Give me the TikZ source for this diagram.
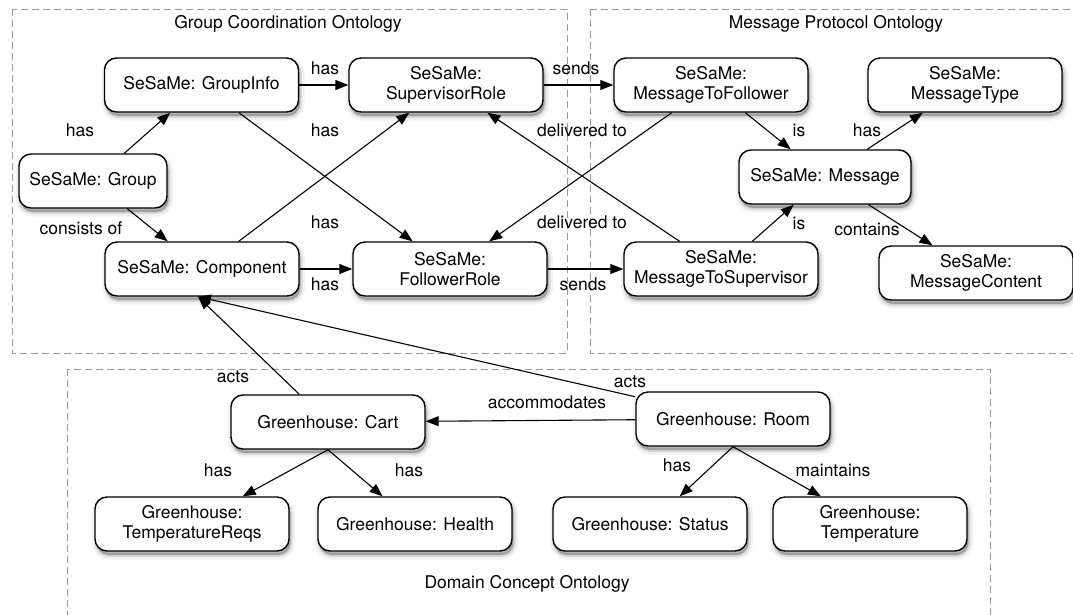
\documentclass[tikz,border=0pt]{standalone}
\usepackage{fontspec}
\setmainfont{TeX Gyre Heros}
\usetikzlibrary{arrows.meta,shadows}

\begin{document}
\begin{tikzpicture}[x=1pt,y=-1pt,
  every node/.style={font=\fontsize{17.5}{20.5}\selectfont},
  softshadow/.style={
    general shadow={shadow xshift=1.5pt, shadow yshift=-4pt, fill=black,
      fill opacity=0.10, draw=black, draw opacity=0.05, line width=9pt},
    general shadow={shadow xshift=1.5pt, shadow yshift=-4pt, fill=black,
      fill opacity=0.18, draw=black, draw opacity=0.10, line width=4pt}},
  box/.style={draw=black, line width=1.4pt, rounded corners=12pt, fill=white,
    minimum width=194pt, minimum height=54pt, align=center, inner sep=2pt,
    softshadow},
  arr/.style={line width=1.1pt, -{Triangle[length=13pt,width=10pt]}},
  lbl/.style={inner sep=1pt},
  frame/.style={draw=black!40, dash pattern=on 7pt off 4pt, line width=1pt}]

\useasboundingbox (0,0) rectangle (1073,614);
\clip (0,0) rectangle (1073,614);

% ontology frames
\draw[frame] (12,9) rectangle (567,353);
\draw[frame] (590,9) rectangle (1080,353);
\draw[frame] (67,369) rectangle (990,630);
\node (tgc) at (288,24) {Group Coordination Ontology};
\node (tmp) at (836,24) {Message Protocol Ontology};
\node (tdc) at (527,584) {Domain Concept Ontology};

% concepts
\node[box, minimum width=148pt] (grp) at (93,181) {SeSaMe: Group};
\node[box] (ginfo) at (201.5,85) {SeSaMe: GroupInfo};
\node[box] (sup) at (446,85) {SeSaMe:\\SupervisorRole};
\node[box] (mtf) at (711,85) {SeSaMe:\\MessageToFollower};
\node[box] (mtype) at (965,85) {SeSaMe:\\MessageType};
\node[box, minimum width=172pt] (msg) at (825,177) {SeSaMe: Message};
\node[box] (comp) at (202,269) {SeSaMe: Component};
\node[box] (fol) at (450,269) {SeSaMe:\\FollowerRole};
\node[box] (mts) at (721,269) {SeSaMe:\\MessageToSupervisor};
\node[box] (mcont) at (976,273) {SeSaMe:\\MessageContent};
\node[box] (cart) at (328,422) {Greenhouse: Cart};
\node[box] (room) at (733,419) {Greenhouse: Room};
\node[box] (treq) at (192,524) {Greenhouse:\\TemperatureReqs};
\node[box] (health) at (415,524) {Greenhouse: Health};
\node[box] (status) at (650,524) {Greenhouse: Status};
\node[box] (temp) at (870,524) {Greenhouse:\\Temperature};

% relations
\draw[arr] (grp) -- (ginfo) node[lbl] at (80,130) {has};
\draw[arr] (grp) -- (comp) node[lbl] at (81,228) {consists of};
\draw[arr] (ginfo) -- (sup) node[lbl] at (325,68) {has};
\draw[arr] (ginfo) -- (fol) node[lbl] at (325,130) {has};
\draw[arr] (comp) -- (sup) node[lbl] at (325,222) {has};
\draw[arr] (comp) -- (fol) node[lbl] at (325,284) {has};
\draw[arr] (sup) -- (mtf) node[lbl] at (576,68) {sends};
\draw[arr] (fol) -- (mts) node[lbl] at (583,284) {sends};
\draw[arr] (mts) -- (sup) node[lbl] at (582,130) {delivered to};
\draw[arr] (mtf) -- (fol) node[lbl] at (582,222) {delivered to};
\draw[arr] (mtf) -- (msg) node[lbl] at (799,130) {is};
\draw[arr] (msg) -- (mtype) node[lbl] at (867,130) {has};
\draw[arr] (mts) -- (msg) node[lbl] at (799,223) {is};
\draw[arr] (msg) -- (mcont) node[lbl] at (867,229) {contains};
\draw[arr] (cart) -- ([xshift=-4pt]comp.south) node[lbl] at (233,377) {acts};
\draw[arr] (room) -- ([xshift=-4pt]comp.south) node[lbl] at (630,382) {acts};
\draw[arr] (room) -- (cart) node[lbl] at (547,402) {accommodates};
\draw[arr] (cart.south) -- (treq) node[lbl] at (218,470) {has};
\draw[arr] (cart.south) -- (health) node[lbl] at (409,470) {has};
\draw[arr] (room.south) -- (status) node[lbl] at (677,465) {has};
\draw[arr] (room.south) -- (temp) node[lbl] at (833,470) {maintains};
\end{tikzpicture}
\end{document}
